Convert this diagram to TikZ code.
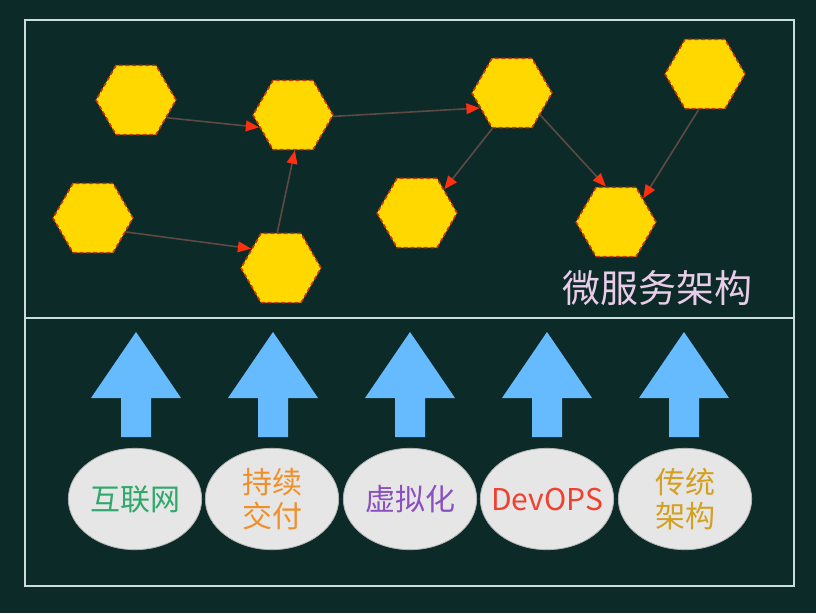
\documentclass[tikz,border=0pt]{standalone}
\usepackage{fontspec}
\setmainfont{Noto Sans CJK SC}
\usetikzlibrary{shapes.geometric,arrows.meta}
\definecolor{bgc}{HTML}{0B2A28}
\definecolor{framec}{HTML}{C9DDD9}
\definecolor{hexfill}{HTML}{FFD800}
\definecolor{hexline}{HTML}{C8380A}
\definecolor{edgec}{HTML}{5E4A42}
\definecolor{tipc}{HTML}{FF3010}
\definecolor{arrowblue}{HTML}{66BBFF}
\definecolor{ellfill}{HTML}{E6E6E6}
\definecolor{titlec}{HTML}{E8CCE8}
\definecolor{cgreen}{HTML}{2EA86B}
\definecolor{corange}{HTML}{F0902A}
\definecolor{cpurple}{HTML}{8A4FC0}
\definecolor{cred}{HTML}{F04030}
\definecolor{cgold}{HTML}{D4A020}
\tikzset{
  hexnode/.style={regular polygon, regular polygon sides=6, minimum size=60pt, inner sep=0pt,
    fill=hexfill, draw=hexline, dash pattern=on 3pt off 2pt, line width=1.2pt},
  linkedge/.style={draw=edgec, line width=1.2pt, -{Triangle[length=10pt,width=8pt,fill=tipc,color=tipc]}},
  ellnode/.style={ellipse, minimum width=100pt, minimum height=76pt, inner sep=0pt,
    fill=ellfill, draw=gray!60, line width=0.6pt, align=center,
    font=\fontsize{22.5}{26}\selectfont},
  upblock/.style={fill=arrowblue}
}
\begin{document}
\begin{tikzpicture}[x=0.75pt,y=-0.75pt]
\fill[bgc] (0,0) rectangle (816,613);
\useasboundingbox (0,0) rectangle (816,613);
% frame
\draw[framec, line width=1.6pt] (25,20) rectangle (794,586);
\draw[framec, line width=1.6pt] (25,318) -- (794,318);
% hexagons
\node[hexnode] (h1) at (136,100) {};
\node[hexnode] (h2) at (293,115) {};
\node[hexnode] (h3) at (93,218) {};
\node[hexnode] (h4) at (281,268) {};
\node[hexnode] (h5) at (512,93) {};
\node[hexnode] (h6) at (705,74) {};
\node[hexnode] (h7) at (417,213) {};
\node[hexnode] (h8) at (616,222) {};
% edges
\draw[linkedge] (h1.-30) -- (h2.200);
\draw[linkedge] (h3.-23) -- (h4.147);
\draw[linkedge] (h4.96) -- (h2.-87);
\draw[linkedge] (h2.-2) -- (h5.205);
\draw[linkedge] (h5.-119) -- (h7.41);
\draw[linkedge] (h5.-38) -- (h8.106);
\draw[linkedge] (h6.-100) -- (h8.41);
% title
\node[text=titlec, font=\fontsize{28.5}{30}\selectfont, inner sep=0pt] (title) at (657,288) {微服务架构};
% block arrows
\foreach \cx/\nm in {136/a1,273/a2,410/a3,547/a4,684/a5}{
  \fill[upblock] (\cx,332) -- (\cx+45,398) -- (\cx+15,398) -- (\cx+15,437)
     -- (\cx-15,437) -- (\cx-15,398) -- (\cx-45,398) -- cycle;
}
% ellipses
\node[ellnode, text=cgreen] (e1) at (135,499) {互联网};
\node[ellnode, text=corange] (e2) at (272,499) {持续\\交付};
\node[ellnode, text=cpurple] (e3) at (410,499) {虚拟化};
\node[ellnode, text=cred] (e4) at (547,499) {\makebox[0pt]{DevOPS}};
\node[ellnode, text=cgold] (e5) at (685,499) {传统\\架构};
\end{tikzpicture}
\end{document}
